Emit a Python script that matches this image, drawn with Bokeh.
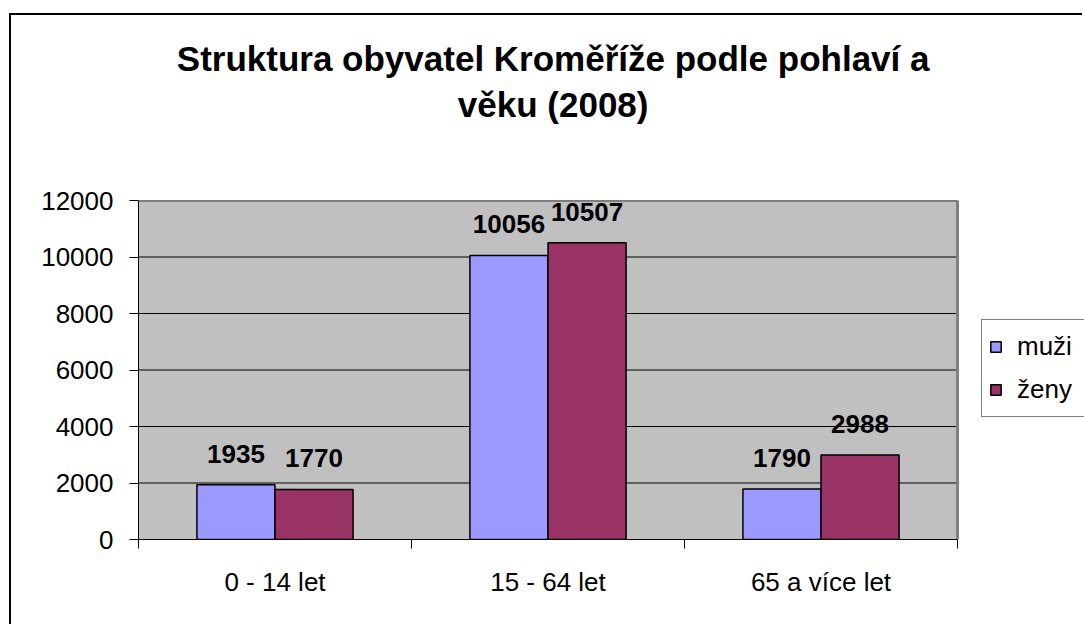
from bokeh.plotting import figure
from bokeh.models import (ColumnDataSource, Range1d, FixedTicker, LabelSet, LinearAxis,
                          Legend, LegendItem)
from bokeh.core.properties import value
from bokeh.embed import file_html
from bokeh.resources import INLINE

categories = ["0 - 14 let", "15 - 64 let", "65 a více let"]
muzi = [1935, 10056, 1790]
zeny = [1770, 10507, 2988]
series_names = ["muži", "ženy"]
y_ticks = [0, 2000, 4000, 6000, 8000, 10000, 12000]
title_lines = ["Struktura obyvatel Kroměříže podle pohlaví a", "věku (2008)"]

FONT = "Liberation Sans"
BAR_W = 0.286
OFF = 0.143
N = len(categories)
Y_MAX = 12000
X_END = N * 946 / 819      # frame extends under the legend, plot area is [0, N]
TITLE_PAD = "\u00a0" * 12  # shifts the centred title left, over the plot area

centers = [i + 0.5 for i in range(N)]
src_m = ColumnDataSource(dict(x=[c - OFF for c in centers], top=muzi,
                              lab=[str(v) for v in muzi]))
src_z = ColumnDataSource(dict(x=[c + OFF for c in centers], top=zeny,
                              lab=[str(v) for v in zeny]))

p = figure(width=1073, height=611, output_backend="svg", toolbar_location=None,
           x_range=Range1d(0, X_END), y_range=Range1d(0, Y_MAX),
           min_border_left=127, min_border_top=185, min_border_right=0,
           min_border_bottom=87,
           styles={"border-left": "2px solid black", "border-top": "2px solid black",
                   "margin-top": "13px", "margin-left": "9px"})
p.background_fill_color = "white"
p.border_fill_color = "white"
p.outline_line_color = None

# grey plot area, grid lines and its grey top/right edges
p.quad(left=0, right=N, bottom=0, top=Y_MAX, fill_color="#C0C0C0", line_color=None)
p.segment(x0=[0] * len(y_ticks), x1=[N] * len(y_ticks), y0=y_ticks, y1=y_ticks,
          line_color="black", line_width=1)
p.line(x=[0, N, N], y=[Y_MAX, Y_MAX, 0], line_color="#808080", line_width=3)

r_m = p.vbar(x="x", top="top", width=BAR_W, source=src_m, fill_color="#9999FF",
             line_color="black", line_width=1.5)
r_z = p.vbar(x="x", top="top", width=BAR_W, source=src_z, fill_color="#993366",
             line_color="black", line_width=1.5)

for src in (src_m, src_z):
    p.add_layout(LabelSet(x="x", y="top", text="lab", source=src, y_offset=22,
                          text_align="center", text_baseline="alphabetic",
                          text_font=value(FONT), text_font_size="26px",
                          text_font_style="bold", text_color="black"))

# axes
p.xaxis.bounds = (0, N)
p.xaxis.ticker = FixedTicker(ticks=centers, minor_ticks=list(range(N + 1)))
p.xaxis.major_label_overrides = {c: cat for c, cat in zip(centers, categories)}
p.xaxis.major_tick_out = 0
p.xaxis.major_tick_in = 0
p.xaxis.minor_tick_out = 9
p.xaxis.minor_tick_in = 0
p.xaxis.minor_tick_line_color = "black"
p.xaxis.axis_line_color = "black"
p.xaxis.major_label_standoff = 18
p.xaxis.major_label_text_font = FONT
p.xaxis.major_label_text_font_size = "26px"
p.xaxis.major_label_text_color = "black"

p.yaxis.ticker = FixedTicker(ticks=y_ticks, minor_ticks=[])
p.yaxis.major_tick_out = 9
p.yaxis.major_tick_in = 0
p.yaxis.major_tick_line_color = "black"
p.yaxis.axis_line_color = "black"
p.yaxis.major_label_standoff = 16
p.yaxis.major_label_text_font = FONT
p.yaxis.major_label_text_font_size = "26px"
p.yaxis.major_label_text_color = "black"

p.xgrid.visible = False
p.ygrid.visible = False


# title drawn as labels of two bare axes above the frame (line 2 nearest the frame)
def title_axis(text, standoff):
    ax = LinearAxis(ticker=FixedTicker(ticks=[], minor_ticks=[]),
                    axis_label=text + TITLE_PAD,
                    axis_label_standoff=standoff, axis_label_text_font=FONT,
                    axis_label_text_font_size="35px", axis_label_text_font_style="bold",
                    axis_label_text_color="black", axis_line_color=None,
                    major_tick_line_color=None, minor_tick_line_color=None,
                    major_tick_out=0, major_tick_in=0, minor_tick_out=0, minor_tick_in=0,
                    major_label_text_font_size="0px", major_label_standoff=0)
    p.add_layout(ax, "above")


title_axis(title_lines[1], 77)
title_axis(title_lines[0], 4)

legend = Legend(items=[LegendItem(label=series_names[0], renderers=[r_m]),
                       LegendItem(label=series_names[1], renderers=[r_z])],
                location=(843, 122), orientation="vertical")
legend.label_text_font = FONT
legend.label_text_font_size = "26px"
legend.label_text_color = "black"
legend.glyph_width = 13
legend.glyph_height = 13
legend.label_height = 39
legend.label_width = 73
legend.spacing = 4
legend.padding = 7
legend.margin = 0
legend.label_standoff = 15
legend.border_line_color = "black"
legend.border_line_width = 1
legend.background_fill_color = "white"
legend.background_fill_alpha = 1
p.add_layout(legend, "center")

open("out.html", "w").write(file_html(p, INLINE))
